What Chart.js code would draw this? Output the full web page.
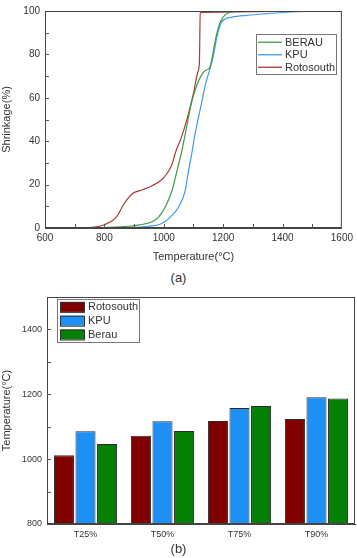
<!DOCTYPE html>
<html>
<head>
<meta charset="utf-8">
<script src="https://cdn.jsdelivr.net/npm/chart.js@4.4.1/dist/chart.umd.min.js"></script>
<style>
    html, body { margin: 0; padding: 0; background: #fff; }
    body { width: 357px; height: 558px; position: relative; overflow: hidden; font-family: 'Liberation Sans', Arial, sans-serif; }
    .wrap { position: absolute; left: 0; width: 357px; }
    #wrapA { top: 0; height: 268px; }
    #wrapB { top: 283px; height: 262px; }
    .cap { position: absolute; left: 0; width: 357px; text-align: center; font-size: 13px; color: #333; }
</style>
</head>
<body>
<div class="wrap" id="wrapA"><canvas id="shrinkChart"></canvas></div>
<div class="cap" style="top:270px;">(a)</div>
<div class="wrap" id="wrapB"><canvas id="tempChart"></canvas></div>
<div class="cap" style="top:541px;">(b)</div>
<script>
// ===== (a) shrinkage curves =====
const tempRoto = [600, 700, 760, 800, 840, 867, 894, 928, 961, 989, 1010, 1028, 1040, 1060, 1080, 1100, 1115, 1120, 1123, 1130, 1250, 1400, 1600];
const shrinkRoto = [0, 0, 0.3, 1.5, 5, 11.3, 15.8, 17.6, 19.5, 21.8, 24.9, 29.4, 35, 42, 51, 62, 72, 76, 99, 99.4, 99.6, 99.9, 100];

const tempBerau = [600, 800, 880, 917, 961, 983, 1005, 1028, 1044, 1061, 1072, 1094, 1111, 1125, 1139, 1155, 1165, 1177, 1189, 1205, 1222, 1260, 1400, 1600];
const shrinkBerau = [0, 0.2, 0.8, 1.4, 2.9, 5.1, 9.7, 17.3, 26, 35.5, 43, 58, 65.6, 70, 72.5, 74, 80, 88.6, 94.5, 98, 99.3, 99.8, 100, 100];

const tempKpu = [600, 800, 900, 950, 994, 1022, 1050, 1072, 1083, 1094, 1105, 1128, 1140, 1155, 1165, 1180, 1193, 1210, 1230, 1280, 1340, 1400, 1500, 1600];
const shrinkKpu = [0, 0, 0.3, 0.8, 2.1, 5, 9.7, 17, 26, 34, 43, 58, 66, 73, 78, 88.6, 94.5, 96.5, 97.2, 98, 98.7, 99.3, 99.9, 100];

// ===== (b) characteristic temperatures =====
const stages = ['T25%', 'T50%', 'T75%', 'T90%'];
const tRoto = [1012, 1072, 1118, 1124];
const tKpu = [1086, 1117, 1158, 1191];
const tBerau = [1047, 1087, 1164, 1187];

const pts = (xs, ys) => xs.map((x, i) => ({ x: x, y: ys[i] }));

Chart.defaults.font.family = "'Liberation Sans', Arial, sans-serif";
Chart.defaults.font.size = 10;
Chart.defaults.color = '#333';
Chart.defaults.animation = false;

// frame + inward ticks
const framePlugin = {
    id: 'frame',
    afterDraw(chart, args, opts) {
        const { ctx, chartArea: a } = chart;
        ctx.save();
        ctx.strokeStyle = '#444';
        ctx.lineWidth = 1;
        ctx.strokeRect(a.left + 0.5, a.top + 0.5, a.right - a.left - 1, a.bottom - a.top - 1);
        ctx.strokeStyle = '#555';
        (opts.xTicks || []).forEach(v => {
            const px = Math.round(chart.scales.x.getPixelForValue(v)) + 0.5;
            ctx.beginPath(); ctx.moveTo(px, a.bottom); ctx.lineTo(px, a.bottom - 4); ctx.stroke();
        });
        (opts.yTicks || []).forEach(v => {
            const py = Math.round(chart.scales.y.getPixelForValue(v)) + 0.5;
            ctx.beginPath(); ctx.moveTo(a.left, py); ctx.lineTo(a.left + 4, py); ctx.stroke();
        });
        ctx.restore();
    }
};

// legend drawn inside plot area
const boxLegend = {
    id: 'boxLegend',
    afterDraw(chart, args, opts) {
        const { ctx, chartArea: a } = chart;
        const items = opts.order.map(i => chart.data.datasets[i]);
        const x0 = a.left + opts.x, y0 = a.top + opts.y;
        ctx.save();
        ctx.fillStyle = '#fff';
        ctx.fillRect(x0, y0, opts.w, opts.h);
        ctx.strokeStyle = '#777';
        ctx.lineWidth = 1;
        ctx.strokeRect(x0 + 0.5, y0 + 0.5, opts.w, opts.h);
        ctx.font = opts.font;
        ctx.textBaseline = 'middle';
        items.forEach((ds, i) => {
            const cy = y0 + opts.pad + i * opts.row + opts.row / 2;
            if (opts.type === 'line') {
                ctx.strokeStyle = ds.borderColor;
                ctx.lineWidth = 1.3;
                ctx.beginPath(); ctx.moveTo(x0 + 2, cy); ctx.lineTo(x0 + 26, cy); ctx.stroke();
            } else {
                ctx.fillStyle = ds.backgroundColor;
                ctx.fillRect(x0 + 3, cy - 5, 24, 10);
                ctx.strokeStyle = '#333';
                ctx.lineWidth = 1;
                ctx.strokeRect(x0 + 3.5, cy - 4.5, 24, 10);
            }
            ctx.fillStyle = '#333';
            ctx.fillText(ds.label, x0 + opts.textX, cy + 0.5);
        });
        ctx.restore();
    }
};

const lineDs = (label, xs, ys, color) => ({
    label: label,
    data: pts(xs, ys),
    borderColor: color,
    backgroundColor: color,
    borderWidth: 1.2,
    pointRadius: 0,
    showLine: true,
    cubicInterpolationMode: 'monotone'
});

new Chart(document.getElementById('shrinkChart'), {
    type: 'scatter',
    data: {
        datasets: [
            lineDs('BERAU', tempBerau, shrinkBerau, '#3e9b45'),
            lineDs('KPU', tempKpu, shrinkKpu, '#3d9cf0'),
            lineDs('Rotosouth', tempRoto, shrinkRoto, '#a83a3a')
        ]
    },
    options: {
        responsive: true,
        maintainAspectRatio: false,
        layout: { padding: { top: 5, right: 12, left: 0, bottom: 4 } },
        plugins: {
            legend: { display: false },
            tooltip: { enabled: false },
            frame: {
                xTicks: [700, 800, 900, 1000, 1100, 1200, 1300, 1400, 1500],
                yTicks: [10, 20, 30, 40, 50, 60, 70, 80, 90]
            },
            boxLegend: {
                type: 'line', order: [0, 1, 2],
                x: 211, y: 23, w: 80, h: 40, pad: 2, row: 12.5, textX: 29,
                font: "11px 'Liberation Sans', Arial, sans-serif"
            }
        },
        scales: {
            x: {
                type: 'linear', min: 600, max: 1600,
                grid: { display: false, drawTicks: false },
                border: { color: '#444' },
                ticks: { stepSize: 200, padding: 4, maxRotation: 0, font: { size: 10 }, callback: v => String(v) },
                title: { display: true, text: 'Temperature(°C)', font: { size: 11 }, padding: { top: 2, bottom: 0 } },
                afterFit(scale) { scale.height = 36; }
            },
            y: {
                min: 0, max: 100,
                grid: { display: false, drawTicks: false },
                border: { color: '#444' },
                ticks: { stepSize: 20, padding: 5, font: { size: 10 } },
                title: { display: true, text: 'Shrinkage(%)', font: { size: 11 }, padding: { top: 0, bottom: 4 } },
                afterFit(scale) { scale.width = 45; }
            }
        }
    },
    plugins: [framePlugin, boxLegend]
});

new Chart(document.getElementById('tempChart'), {
    type: 'bar',
    data: {
        labels: stages,
        datasets: [
            { label: 'Rotosouth', data: tRoto, backgroundColor: '#800000' },
            { label: 'KPU', data: tKpu, backgroundColor: '#1e8ff5' },
            { label: 'Berau', data: tBerau, backgroundColor: '#058005' }
        ].map(ds => Object.assign(ds, {
            borderColor: '#2a2a2a',
            borderWidth: 1,
            barPercentage: 0.93,
            categoryPercentage: 0.84
        }))
    },
    options: {
        responsive: true,
        maintainAspectRatio: false,
        layout: { padding: { top: 14, right: 2, left: 0, bottom: 0 } },
        plugins: {
            legend: { display: false },
            tooltip: { enabled: false },
            frame: { xTicks: [], yTicks: [900, 1000, 1100, 1200, 1300, 1400] },
            boxLegend: {
                type: 'bar', order: [0, 1, 2],
                x: 10, y: 2, w: 82, h: 43, pad: 1, row: 13.8, textX: 31,
                font: "11px 'Liberation Sans', Arial, sans-serif"
            }
        },
        scales: {
            x: {
                grid: { display: false, drawTicks: false },
                border: { color: '#444' },
                ticks: { padding: 5, font: { size: 9 } },
                afterFit(scale) { scale.height = 21; }
            },
            y: {
                min: 800, max: 1500,
                grid: { display: false, drawTicks: false },
                border: { color: '#444' },
                ticks: {
                    stepSize: 100, padding: 5, font: { size: 9 },
                    callback: v => (v % 200 === 0 && v < 1500) ? String(v) : ''
                },
                title: { display: true, text: 'Temperature(°C)', font: { size: 11 }, padding: { top: 0, bottom: 2 } },
                afterFit(scale) { scale.width = 47; }
            }
        }
    },
    plugins: [framePlugin, boxLegend]
});
</script>
</body>
</html>
